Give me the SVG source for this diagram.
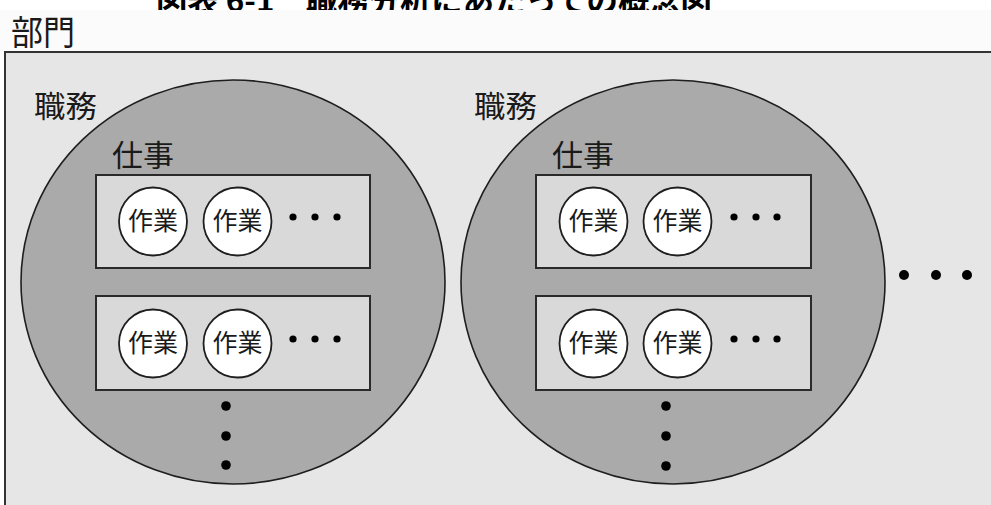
<svg xmlns="http://www.w3.org/2000/svg" width="991" height="505" viewBox="0 0 991 505">
<style>
text{font-family:"Noto Sans CJK JP","Noto Sans CJK SC",sans-serif;fill:#1a1a1a}
.lbl{font-size:30px}
.wk{font-size:25px;text-anchor:middle}
.duty{fill:#aaaaaa;stroke:#1e1e1e;stroke-width:1.6}
.task{fill:#d9d9d9;stroke:#2a2a2a;stroke-width:2}
.work{fill:#ffffff;stroke:#1e1e1e;stroke-width:1.8}
.dot{fill:#000}
</style>
<defs>
<clipPath id="titleClip"><rect x="0" y="0" width="991" height="10"/></clipPath>
</defs>
<rect x="0" y="0" width="991" height="505" fill="#ffffff"/>
<rect x="0" y="10" width="991" height="42" fill="#fbfbfb"/>
<g id="title" clip-path="url(#titleClip)">
<text x="156" y="12" style="font-size:31px;font-weight:bold;fill:#000" textLength="556" lengthAdjust="spacingAndGlyphs">図表 6-1　職務分析にあたっての概念図</text>
</g>
<g id="department">
<rect x="5" y="52" width="990" height="460" fill="#e6e6e6" stroke="#333" stroke-width="2"/>
<text x="11" y="45" style="font-size:34px" textLength="64" lengthAdjust="spacingAndGlyphs">部門</text>
</g>
<g id="connectors"></g>
<g id="duty1">
<ellipse class="duty" cx="233" cy="282" rx="212" ry="202"/>
<text class="lbl" x="34" y="117" textLength="63" lengthAdjust="spacingAndGlyphs">職務</text>
<text class="lbl" x="112" y="166" textLength="62" lengthAdjust="spacingAndGlyphs">仕事</text>
</g>
<g id="duty2">
<ellipse class="duty" cx="673" cy="282" rx="212" ry="202"/>
<text class="lbl" x="474" y="117" textLength="63" lengthAdjust="spacingAndGlyphs">職務</text>
<text class="lbl" x="552" y="166" textLength="62" lengthAdjust="spacingAndGlyphs">仕事</text>
</g>
<g id="job1a">
<rect class="task" x="96" y="175" width="274" height="93"/>
<circle class="work" cx="153" cy="221.5" r="34"/>
<text class="wk" x="153" y="230">作業</text>
<circle class="work" cx="237.5" cy="221.5" r="34"/>
<text class="wk" x="237.5" y="230">作業</text>
<circle class="dot" cx="293" cy="217" r="3.6"/>
<circle class="dot" cx="315" cy="217" r="3.6"/>
<circle class="dot" cx="337" cy="217" r="3.6"/>
</g>
<g id="job1b">
<rect class="task" x="96" y="296" width="274" height="94"/>
<circle class="work" cx="153" cy="343.5" r="34"/>
<text class="wk" x="153" y="352">作業</text>
<circle class="work" cx="237.5" cy="343.5" r="34"/>
<text class="wk" x="237.5" y="352">作業</text>
<circle class="dot" cx="293" cy="339" r="3.6"/>
<circle class="dot" cx="315" cy="339" r="3.6"/>
<circle class="dot" cx="337" cy="339" r="3.6"/>
</g>
<g id="job1more">
<circle class="dot" cx="226" cy="406" r="4.8"/>
<circle class="dot" cx="226" cy="436" r="4.8"/>
<circle class="dot" cx="226" cy="465" r="4.8"/>
</g>
<g id="job2a">
<rect class="task" x="536" y="175" width="275" height="93"/>
<circle class="work" cx="593.5" cy="221.5" r="34"/>
<text class="wk" x="593.5" y="230">作業</text>
<circle class="work" cx="677.5" cy="221.5" r="34"/>
<text class="wk" x="677.5" y="230">作業</text>
<circle class="dot" cx="734" cy="217" r="3.6"/>
<circle class="dot" cx="756" cy="217" r="3.6"/>
<circle class="dot" cx="777" cy="217" r="3.6"/>
</g>
<g id="job2b">
<rect class="task" x="536" y="296" width="275" height="94"/>
<circle class="work" cx="593.5" cy="343.5" r="34"/>
<text class="wk" x="593.5" y="352">作業</text>
<circle class="work" cx="677.5" cy="343.5" r="34"/>
<text class="wk" x="677.5" y="352">作業</text>
<circle class="dot" cx="734" cy="339" r="3.6"/>
<circle class="dot" cx="756" cy="339" r="3.6"/>
<circle class="dot" cx="777" cy="339" r="3.6"/>
</g>
<g id="job2more">
<circle class="dot" cx="666" cy="406" r="4.8"/>
<circle class="dot" cx="666" cy="436" r="4.8"/>
<circle class="dot" cx="666" cy="466" r="4.8"/>
</g>
<g id="dutymore">
<circle class="dot" cx="904" cy="275" r="5"/>
<circle class="dot" cx="936" cy="275" r="5"/>
<circle class="dot" cx="967" cy="275" r="5"/>
</g>
</svg>
